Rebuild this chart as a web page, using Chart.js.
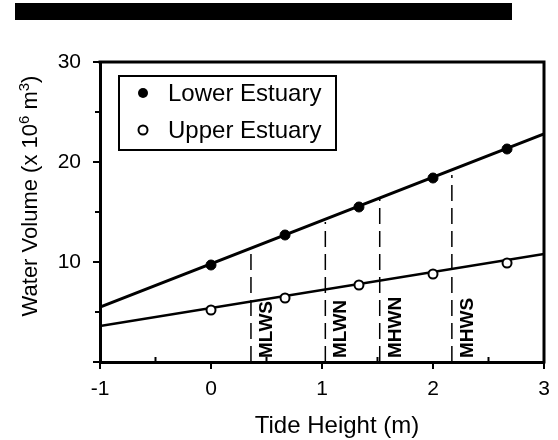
<!DOCTYPE html>
<html>
<head>
<meta charset="utf-8">
<script src="https://cdn.jsdelivr.net/npm/chart.js@4.4.0/dist/chart.umd.min.js"></script>
<style>
  html, body { margin: 0; padding: 0; background: #fff; }
  #chart { display: block; }
</style>
</head>
<body>
<canvas id="chart" width="558" height="440"></canvas>
<script>
// tide heights (m) of the sampled points
const tideHeights = [0, 0.667, 1.333, 2, 2.667];
// water volume (x 10^6 m^3)
const lowerEstuary = [9.7, 12.7, 15.5, 18.4, 21.3];
const upperEstuary = [5.2, 6.4, 7.7, 8.8, 9.9];
// fitted lines, value at x = -1 and x = 3
const fitX = [-1, 3];
const lowerFit = [5.5, 22.8];
const upperFit = [3.6, 10.8];
// tidal levels
const tideNames = ['MLWS', 'MLWN', 'MHWN', 'MHWS'];
const tideLevels = [0.36, 1.03, 1.52, 2.17];
const tideTops = [10.8, 14.0, 16.3, 18.7];
// tick labels
const xTickLabels = [-1, 0, 1, 2, 3];
const yTickLabels = [10, 20, 30];

const FONT = "'Liberation Sans', Arial, Helvetica, sans-serif";

function pts(xs, ys) {
  return xs.map((x, i) => ({ x: x, y: ys[i] }));
}

const datasets = [{
  label: 'Lower Estuary',
  data: pts(tideHeights, lowerEstuary),
  showLine: false,
  pointRadius: 5,
  pointBackgroundColor: '#000',
  pointBorderColor: '#000',
  pointBorderWidth: 1
}, {
  label: 'Upper Estuary',
  data: pts(tideHeights, upperEstuary),
  showLine: false,
  pointRadius: 4.5,
  pointBackgroundColor: '#fff',
  pointBorderColor: '#000',
  pointBorderWidth: 2
}, {
  label: 'lower fit',
  data: pts(fitX, lowerFit),
  showLine: true,
  borderColor: '#000',
  borderWidth: 3,
  pointRadius: 0
}, {
  label: 'upper fit',
  data: pts(fitX, upperFit),
  showLine: true,
  borderColor: '#000',
  borderWidth: 2.5,
  pointRadius: 0
}];

// 潮位の破線
tideLevels.forEach((lv, i) => {
  datasets.push({
    label: tideNames[i],
    data: [{ x: lv, y: 0 }, { x: lv, y: tideTops[i] }],
    showLine: true,
    borderColor: '#000',
    borderWidth: 1.5,
    borderDash: [16, 7],
    pointRadius: 0
  });
});

// 枠線・目盛り・凡例・ラベルを描くプラグイン
const decorations = {
  id: 'decorations',
  afterDraw(chart) {
    const ctx = chart.ctx;
    const xs = chart.scales.x;
    const ys = chart.scales.y;
    const a = chart.chartArea;
    ctx.save();

    // top black bar
    ctx.fillStyle = '#000';
    ctx.fillRect(15, 3, 497, 17);

    // frame top and right
    ctx.strokeStyle = '#000';
    ctx.lineWidth = 3;
    ctx.beginPath();
    ctx.moveTo(a.left - 1.5, a.top);
    ctx.lineTo(a.right, a.top);
    ctx.lineTo(a.right, a.bottom + 1.5);
    ctx.stroke();

    // y ticks (outward)
    ctx.lineWidth = 2;
    for (let v = 0; v <= 30; v += 5) {
      const y = ys.getPixelForValue(v);
      const len = v % 10 === 0 ? 7 : 5;
      ctx.beginPath();
      ctx.moveTo(a.left, y);
      ctx.lineTo(a.left - len, y);
      ctx.stroke();
    }
    // x ticks: major down, minor up
    for (let v = -1; v <= 3.001; v += 0.5) {
      const x = xs.getPixelForValue(v);
      const major = Math.abs(v - Math.round(v)) < 0.01;
      ctx.beginPath();
      if (major) {
        ctx.moveTo(x, a.bottom);
        ctx.lineTo(x, a.bottom + 7);
      } else {
        ctx.moveTo(x, a.bottom);
        ctx.lineTo(x, a.bottom - 5);
      }
      ctx.stroke();
    }

    // tidal level labels
    ctx.fillStyle = '#000';
    ctx.font = 'bold 19px ' + FONT;
    ctx.textAlign = 'left';
    ctx.textBaseline = 'alphabetic';
    tideLevels.forEach((lv, i) => {
      const x = xs.getPixelForValue(lv);
      ctx.save();
      ctx.translate(x + 21, a.bottom - 4);
      ctx.rotate(-Math.PI / 2);
      ctx.fillText(tideNames[i], 0, 0);
      ctx.restore();
    });

    // legend
    ctx.lineWidth = 2;
    ctx.strokeRect(119, 76, 217, 74);
    ctx.beginPath();
    ctx.arc(143, 93, 5, 0, Math.PI * 2);
    ctx.fill();
    ctx.beginPath();
    ctx.arc(143, 130, 4.5, 0, Math.PI * 2);
    ctx.fillStyle = '#fff';
    ctx.fill();
    ctx.stroke();
    ctx.fillStyle = '#000';
    ctx.font = '24px ' + FONT;
    ctx.textBaseline = 'middle';
    ctx.fillText('Lower Estuary', 168, 94);
    ctx.fillText('Upper Estuary', 168, 131);

    // x title
    ctx.font = '24px ' + FONT;
    ctx.textAlign = 'center';
    ctx.fillText('Tide Height (m)', 337, 426);

    // y title with superscripts
    const parts = [
      ['Water Volume (x 10', 22, 0],
      ['6', 15, -8],
      [' m', 22, 0],
      ['3', 15, -8],
      [')', 22, 0]
    ];
    let total = 0;
    parts.forEach(p => {
      ctx.font = p[1] + 'px ' + FONT;
      total += ctx.measureText(p[0]).width;
    });
    ctx.save();
    ctx.translate(37, 196);
    ctx.rotate(-Math.PI / 2);
    ctx.textAlign = 'left';
    ctx.textBaseline = 'alphabetic';
    let cx = -total / 2;
    parts.forEach(p => {
      ctx.font = p[1] + 'px ' + FONT;
      ctx.fillText(p[0], cx, p[2]);
      cx += ctx.measureText(p[0]).width;
    });
    ctx.restore();

    ctx.restore();
  }
};

new Chart(document.getElementById('chart'), {
  type: 'scatter',
  data: { datasets: datasets },
  options: {
    responsive: false,
    animation: false,
    layout: { padding: { top: 62, right: 14, left: 0, bottom: 0 } },
    plugins: {
      legend: { display: false },
      tooltip: { enabled: false }
    },
    scales: {
      x: {
        type: 'linear',
        min: -1,
        max: 3,
        afterFit: s => { s.height = 78; s.paddingRight = 0; s.paddingLeft = 0; },
        afterBuildTicks: s => { s.ticks = xTickLabels.map(v => ({ value: v })); },
        ticks: {
          color: '#000',
          font: { family: FONT, size: 21 },
          padding: 15
        },
        grid: { display: false, drawTicks: false },
        border: { display: true, color: '#000', width: 3 }
      },
      y: {
        min: 0,
        max: 30,
        afterFit: s => { s.width = 100; s.paddingTop = 0; s.paddingBottom = 0; },
        afterBuildTicks: s => { s.ticks = yTickLabels.map(v => ({ value: v })); },
        ticks: {
          color: '#000',
          font: { family: FONT, size: 21 },
          padding: 19
        },
        grid: { display: false, drawTicks: false },
        border: { display: true, color: '#000', width: 3 }
      }
    }
  },
  plugins: [decorations]
});
</script>
</body>
</html>
